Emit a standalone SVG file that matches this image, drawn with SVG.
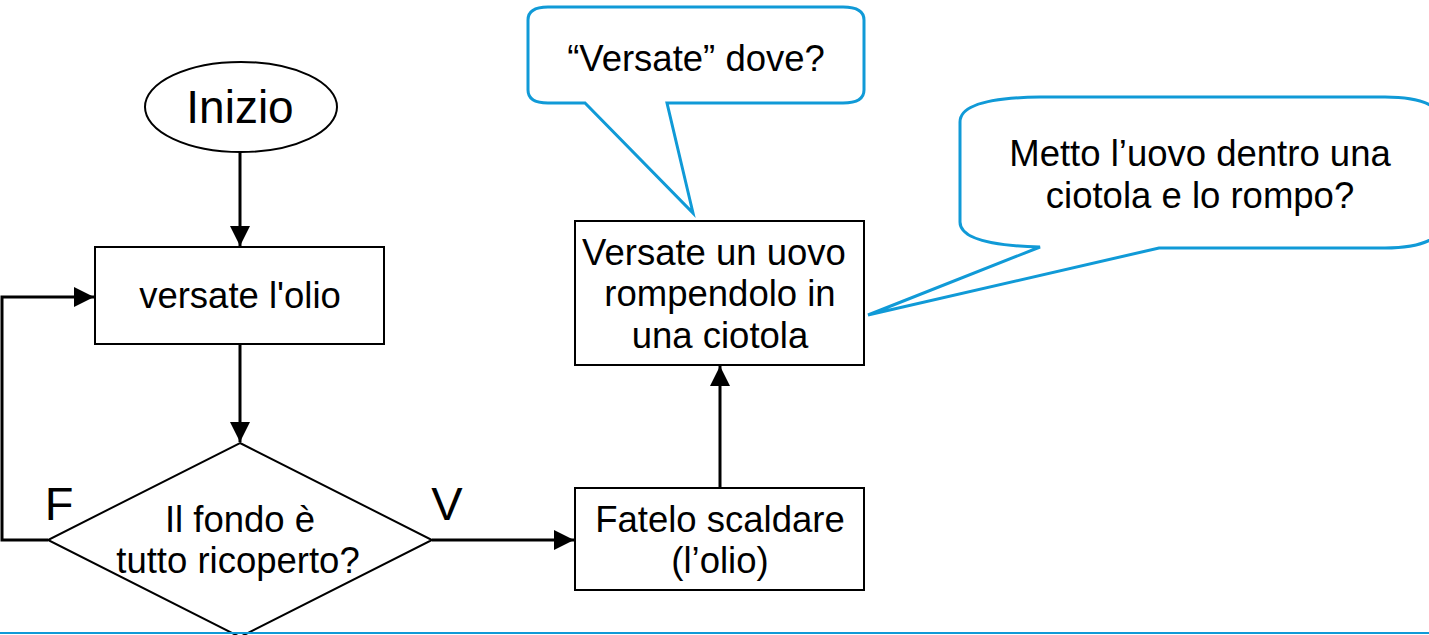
<svg xmlns="http://www.w3.org/2000/svg" width="1429" height="635" viewBox="0 0 1429 635">
<style>
.n{fill:#fff;stroke:#000;stroke-width:2}
.c{fill:#fff;stroke:#109ad7;stroke-width:3;stroke-linejoin:miter}
.e{fill:none;stroke:#000;stroke-width:3}
text{font-family:"Liberation Sans",Arial,sans-serif;fill:#000;text-anchor:middle}
.t{font-size:36.5px}
.b{font-size:46px}
.f{font-size:47px}
</style>
<defs>
<marker id="a" viewBox="0 0 20 20" refX="20" refY="10" markerWidth="20" markerHeight="20" markerUnits="userSpaceOnUse" orient="auto">
<path d="M0,0L20,10L0,20z" fill="#000"/>
</marker>
</defs>
<g id="connectors">
<line class="e" x1="240" y1="152" x2="240" y2="246" marker-end="url(#a)"/>
<line class="e" x1="240" y1="344" x2="240" y2="442" marker-end="url(#a)"/>
<polyline class="e" points="48,540 2,540 2,297 94,297" marker-end="url(#a)"/>
<line class="e" x1="432" y1="540" x2="574" y2="540" marker-end="url(#a)"/>
<line class="e" x1="720" y1="488" x2="720" y2="366" marker-end="url(#a)"/>
</g>
<g id="start">
<ellipse class="n" cx="241" cy="107" rx="96" ry="45" stroke-width="3"/>
<text class="b" x="240" y="123">Inizio</text>
</g>
<g id="pour-oil">
<rect class="n" x="95" y="247" width="289" height="97"/>
<text class="t" x="240" y="308">versate l'olio</text>
</g>
<g id="decision">
<polygon class="n" points="240,443 432,540 240,637 48,540"/>
<text class="t" x="240" y="532">Il fondo è</text>
<text class="t" x="238" y="573">tutto ricoperto?</text>
</g>
<g id="label-F"><text class="f" x="59" y="520">F</text></g>
<g id="label-V"><text class="f" x="447" y="520">V</text></g>
<g id="heat">
<rect class="n" x="575" y="488" width="289" height="102"/>
<text class="t" x="720" y="532">Fatelo scaldare</text>
<text class="t" x="720" y="573">(l’olio)</text>
</g>
<g id="egg">
<rect class="n" x="575" y="221" width="289" height="144"/>
<text class="t" x="714" y="265">Versate un uovo</text>
<text class="t" x="720" y="306">rompendolo in</text>
<text class="t" x="720" y="348">una ciotola</text>
</g>
<g id="callout-1">
<path class="c" d="M585,103 L548,103 Q528,103 528,90 L528,20 Q528,7 548,7 L843,7 Q864,7 864,20 L864,90 Q864,103 843,103 L667,103 L693,213 Z"/>
<text class="t" x="696" y="71">“Versate” dove?</text>
</g>
<g id="callout-2">
<path class="c" d="M1040,247 Q960,245 960,222 L960,122 Q960,98 1040,97 L1385,97 Q1440,97 1447,125 L1447,220 Q1440,248 1385,248 L1159,248 L868,315 Z"/>
<text class="t" x="1200" y="166">Metto l’uovo dentro una</text>
<text class="t" x="1200" y="208">ciotola e lo rompo?</text>
</g>
<line x1="0" y1="633" x2="1429" y2="633" stroke="#109ad7" stroke-width="2"/>
</svg>
